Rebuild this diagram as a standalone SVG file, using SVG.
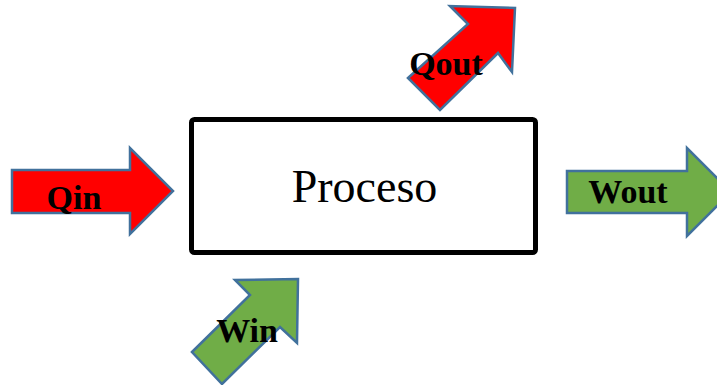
<svg xmlns="http://www.w3.org/2000/svg" width="717" height="385" viewBox="0 0 717 385">
<style>
.arrow{stroke:#41719C;stroke-width:2.5;stroke-linejoin:miter}
.red{fill:#FF0000}
.green{fill:#70AD47}
.lbl{font-family:"Liberation Serif","Times New Roman",serif;font-weight:bold;font-size:34px;fill:#000}
.main{font-family:"Liberation Serif","Times New Roman",serif;font-size:46px;fill:#000}
</style>
<rect width="717" height="385" fill="#fff"/>
<g id="proceso">
<rect x="191.5" y="119.5" width="344" height="133" rx="3" fill="#fff" stroke="#000" stroke-width="5"/>
<text class="main" x="364.5" y="202" text-anchor="middle">Proceso</text>
</g>
<g id="qin">
<polygon class="arrow red" points="12,170 130,170 130,148 173,191 130,234 130,213 12,213"/>
<text class="lbl" x="74" y="209" text-anchor="middle">Qin</text>
</g>
<g id="wout">
<polygon class="arrow green" points="567,171 687,171 687,148 731,192 687,236 687,213 567,213"/>
<text class="lbl" x="628" y="203" text-anchor="middle">Wout</text>
</g>
<g id="qout">
<polygon class="arrow red" points="408,78 468,24 450,6 515,8 512,72 498,53 440,110"/>
<text class="lbl" x="446" y="75" text-anchor="middle">Qout</text>
</g>
<g id="win">
<polygon class="arrow green" points="192,352 250,295 235,280 298,279 297,343 280,327 222,384"/>
<text class="lbl" x="247" y="342" text-anchor="middle">Win</text>
</g>
<g id="connectors"/>
</svg>
